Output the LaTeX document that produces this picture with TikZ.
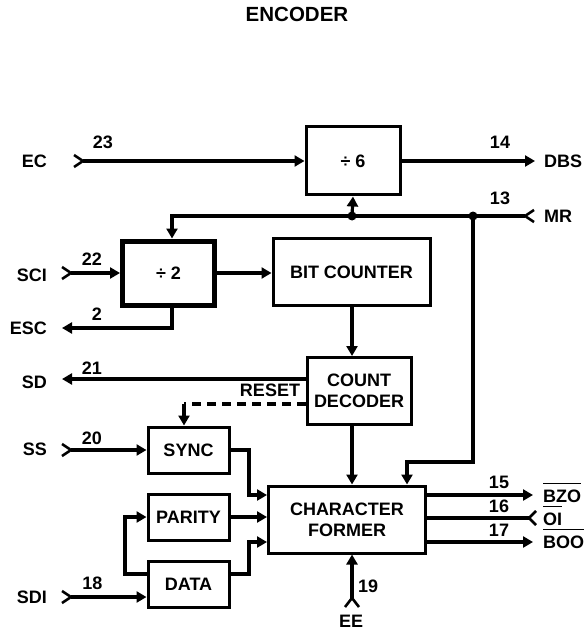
\documentclass[tikz,border=0pt]{standalone}
\usepackage{fontspec}
\setmainfont{Liberation Sans}
\usetikzlibrary{arrows.meta,calc}
\begin{document}
\begin{tikzpicture}[x=1pt,y=-1pt,
  font=\bfseries\fontsize{18}{21}\selectfont,
  box/.style={draw,line width=3pt,inner sep=0pt,align=center},
  small/.style={box,minimum width=81pt,minimum height=46pt},
  wire/.style={line width=3.2pt},
  arr/.style={wire,-{Triangle[length=10pt,width=11pt]}},
  chev/.style={line width=2.6pt},
  lbl/.style={inner sep=0pt},
  bar/.style={line width=1.8pt},
]
\useasboundingbox (0,0) rectangle (587,636);

% title
\node[lbl,font=\bfseries\fontsize{20.5}{24}\selectfont] (title) at (297,14.5) {ENCODER};

% blocks
\node[box,minimum width=94pt,minimum height=68pt] (d6) at (353,161) {÷ 6};
\node[box,line width=5pt,minimum width=92pt,minimum height=64pt] (d2) at (168.5,273) {÷ 2};
\node[box,minimum width=157pt,minimum height=67pt] (bc) at (351.5,272) {BIT COUNTER};
\node[box,minimum width=104pt,minimum height=67pt] (cd) at (359,391) {COUNT\\DECODER};
\node[small] (sync) at (188.5,450) {SYNC};
\node[small] (par) at (188.5,517) {PARITY};
\node[small] (data) at (188.5,584) {DATA};
\node[box,minimum width=157pt,minimum height=67pt] (cf) at (347,519.5) {CHARACTER\\FORMER};

% helper coordinates
\coordinate (c172) at (172,0);
\coordinate (cx) at (352,0);
\coordinate (cfB) at (407,0);
\coordinate (j) at (249,0);
\coordinate (lp) at (125,0);
\coordinate (r1) at (0,495);
\coordinate (r2) at (0,518);
\coordinate (r3) at (0,542);
\coordinate (r4) at (0,574);

% terminals
\coordinate (ecT) at (83,161);
\coordinate (dbsT) at (535,161);
\coordinate (mrT) at (525,216);
\coordinate (sciT) at (71,273);
\coordinate (escT) at (62,328);
\coordinate (sdT) at (62,379);
\coordinate (rs) at (184,404);
\coordinate (ssT) at (71,450);
\coordinate (sdiT) at (71,597);
\coordinate (eeT) at (352,598);
\coordinate (o1) at (533,495);
\coordinate (o2) at (529,518);
\coordinate (o3) at (533,542);
\coordinate (dotA) at (352,216);
\coordinate (dotB) at (473,216);
\coordinate (turn) at (473,462);

% EC
\draw[chev] ($(ecT)+(-9,-6)$) -- (ecT) -- ($(ecT)+(-9,6)$);
\draw[arr] (ecT) -- (d6.west);
% DBS
\draw[arr] (d6.east) -- (dbsT);
% MR
\draw[chev] ($(mrT)+(9,-6)$) -- (mrT) -- ($(mrT)+(9,6)$);
\draw[arr] (mrT) -- (mrT -| c172) -- (c172 |- d2.north);
\fill (dotA) circle (4.5pt);
\fill (dotB) circle (4.5pt);
\draw[arr] (dotA) -- (d6.south);
\draw[arr] (dotB) -- (turn) -- (turn -| cfB) -- (cfB |- cf.north);
% SCI
\draw[chev] ($(sciT)+(-9,-6)$) -- (sciT) -- ($(sciT)+(-9,6)$);
\draw[arr] (sciT) -- (d2.west);
\draw[arr] (d2.east) -- (d2.east -| bc.west);
% ESC
\draw[arr] (c172 |- d2.south) -- (c172 |- escT) -- (escT);
% counter chain
\draw[arr] (cx |- bc.south) -- (cx |- cd.north);
\draw[arr] (cx |- cd.south) -- (cx |- cf.north);
% SD
\draw[arr] (cd.west |- sdT) -- (sdT);
% RESET
\draw[wire,dash pattern=on 9pt off 6pt] (cd.west |- rs) -- (rs);
\draw[arr] (rs) -- (rs |- sync.north);
% SS
\draw[chev] ($(ssT)+(-9,-6)$) -- (ssT) -- ($(ssT)+(-9,6)$);
\draw[arr] (ssT) -- (sync.west);
% into character former
\draw[arr] (sync.east) -- (sync.east -| j) -- (j |- r1) -- (cf.west |- r1);
\draw[arr] (par.east) -- (cf.west |- par.east);
\draw[arr] (data.east |- r4) -- (j |- r4) -- (j |- r3) -- (cf.west |- r3);
\draw[arr] (data.west |- r4) -- (lp |- r4) -- (lp |- par.west) -- (par.west);
% SDI
\draw[chev] ($(sdiT)+(-9,-6)$) -- (sdiT) -- ($(sdiT)+(-9,6)$);
\draw[arr] (sdiT) -- (data.west |- sdiT);
% EE
\draw[chev] ($(eeT)+(-7,9)$) -- (eeT) -- ($(eeT)+(7,9)$);
\draw[arr] (eeT) -- (cx |- cf.south);
% outputs
\draw[arr] (cf.east |- o1) -- (o1);
\draw[wire] (cf.east |- o2) -- (o2);
\draw[chev] ($(o2)+(7,-7)$) -- (o2) -- ($(o2)+(7,7)$);
\draw[arr] (cf.east |- o3) -- (o3);

% labels
\node[lbl,anchor=east] (lEC) at (47,161) {EC};
\node[lbl,anchor=east] (lSCI) at (47,275) {SCI};
\node[lbl,anchor=east] (lESC) at (47,328) {ESC};
\node[lbl,anchor=east] (lSD) at (47,382) {SD};
\node[lbl,anchor=east] (lSS) at (47,449) {SS};
\node[lbl,anchor=east] (lSDI) at (47,597) {SDI};
\node[lbl,anchor=west] (lDBS) at (544,161) {DBS};
\node[lbl,anchor=west] (lMR) at (544,216) {MR};
\node[lbl,anchor=west] (lBZO) at (543,496) {BZO};
\node[lbl,anchor=west] (lOI) at (543,519) {OI};
\node[lbl,anchor=west] (lBOO) at (543,542) {BOO};
\draw[bar] ($(lBZO.north west)+(0,-6)$) -- ($(lBZO.north east)+(0,-6)$);
\draw[bar] ($(lOI.north west)+(0,-6)$) -- ($(lOI.north east)+(0,-6)$);
\draw[bar] ($(lBOO.north west)+(0,-6)$) -- ($(lBOO.north east)+(0,-6)$);
\node[lbl] (lEE) at (351,621) {EE};
\node[lbl] (lRESET) at (270,390) {RESET};
\node[lbl] (n23) at (103,142) {23};
\node[lbl] (n14) at (500,142) {14};
\node[lbl] (n13) at (500,198) {13};
\node[lbl] (n22) at (92,259) {22};
\node[lbl] (n2) at (97,314) {2};
\node[lbl] (n21) at (92,368) {21};
\node[lbl] (n20) at (92,438) {20};
\node[lbl] (n18) at (92.5,583) {18};
\node[lbl] (n15) at (499,482) {15};
\node[lbl] (n16) at (499,506) {16};
\node[lbl] (n17) at (499,530) {17};
\node[lbl,anchor=west] (n19) at (358,586) {19};
\end{tikzpicture}
\end{document}
